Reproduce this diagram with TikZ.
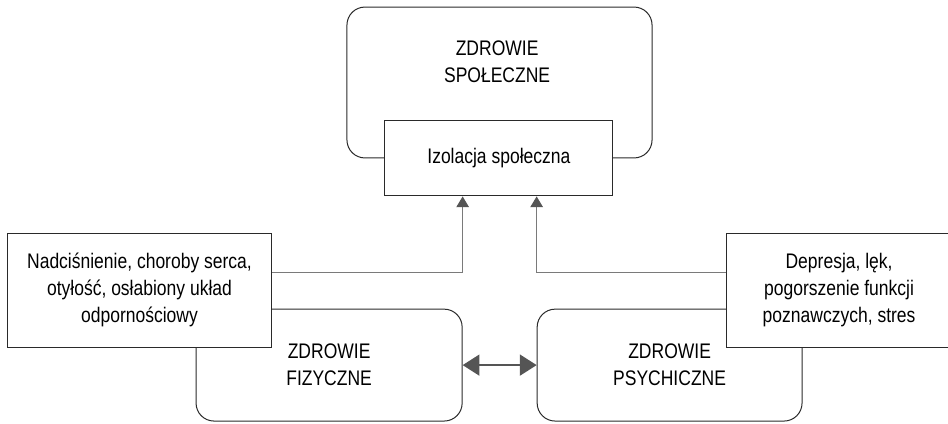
\documentclass[tikz,border=0pt]{standalone}
\usepackage{fontspec}
\setmainfont{Liberation Sans}[FakeStretch=0.83]
\usetikzlibrary{arrows.meta}
\definecolor{linegray}{HTML}{7A7A7A}
\definecolor{headgray}{HTML}{555555}
\definecolor{boxline}{HTML}{2A2A2A}
\begin{document}
\begin{tikzpicture}[
      every node/.style={font=\fontsize{20}{25.6}\selectfont, align=center},
      area/.style={rectangle, draw=boxline, line width=0.95pt, rounded corners=0.6cm},
      factor/.style={rectangle, draw=boxline, fill=white, line width=0.95pt},
      link/.style={draw=linegray, line width=0.95pt, -{Triangle[length=0.36cm, width=0.42cm, color=headgray]}},
      mutual/.style={draw=headgray, line width=1.6pt, {Triangle[length=0.56cm, width=0.7cm]}-{Triangle[length=0.56cm, width=0.7cm]}}
  ]
    \useasboundingbox (0,0) rectangle (31.6,-14.133);

    \node[area, minimum width=10.17cm, minimum height=5.03cm] (spol) at (16.65,-2.75) {};
    \node (spoltxt) at (16.57,-2.07) {ZDROWIE\\SPOŁECZNE};
    \node[factor, minimum width=7.6cm, minimum height=2.5cm] (izol) at (16.63,-5.28) {Izolacja społeczna};

    \node[area, minimum width=8.87cm, minimum height=3.73cm] (fiz) at (10.97,-12.17) {ZDROWIE\\FIZYCZNE};
    \node[area, minimum width=8.83cm, minimum height=3.73cm] (psy) at (22.32,-12.17) {ZDROWIE\\PSYCHICZNE};

    \node[factor, minimum width=8.83cm, minimum height=3.8cm] (nadc) at (4.65,-9.67) {Nadciśnienie, choroby serca,\\otyłość, osłabiony układ\\odpornościowy};
    \node[factor, minimum width=7.53cm, minimum height=3.8cm] (depr) at (27.97,-9.67) {Depresja, lęk,\\pogorszenie funkcji\\poznawczych, stres};

    \draw[link] ([yshift=0.6cm]nadc.east) -| (izol.south -| fiz.east);
    \draw[link] ([yshift=0.6cm]depr.west) -| (izol.south -| psy.west);
    \draw[mutual] (fiz.east) -- (psy.west);
  \end{tikzpicture}
\end{document}
